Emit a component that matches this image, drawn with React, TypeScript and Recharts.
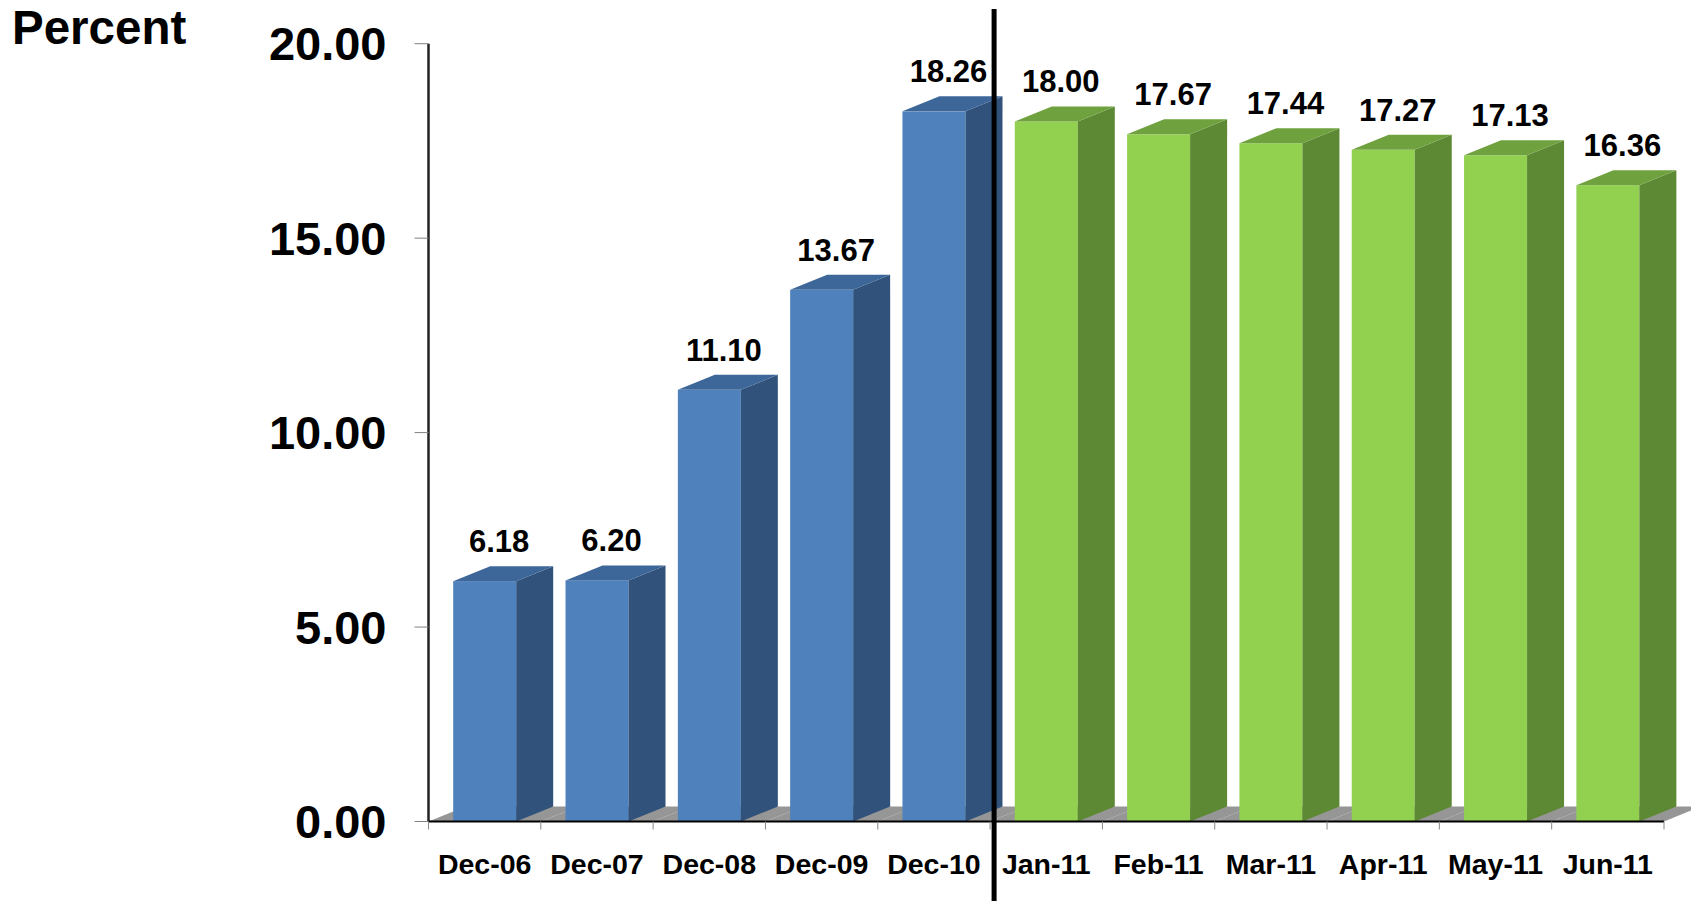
import { Bar, BarChart, LabelList, XAxis, YAxis } from "recharts";

const ANNUAL_LABELS = ["Dec-06", "Dec-07", "Dec-08", "Dec-09", "Dec-10"];
const ANNUAL_VALUES = [6.18, 6.2, 11.1, 13.67, 18.26];
const MONTHLY_LABELS = ["Jan-11", "Feb-11", "Mar-11", "Apr-11", "May-11", "Jun-11"];
const MONTHLY_VALUES = [18.0, 17.67, 17.44, 17.27, 17.13, 16.36];
const Y_TICKS = [0, 5, 10, 15, 20];

const rows = [
  ...ANNUAL_LABELS.map((label, i) => ({ label, value: ANNUAL_VALUES[i], period: "annual" })),
  ...MONTHLY_LABELS.map((label, i) => ({ label, value: MONTHLY_VALUES[i], period: "monthly" })),
];

const FONT = "'Liberation Sans', Arial, sans-serif";
const W = 1691;
const H = 901;
const LEFT = 428.5;
const RIGHT = 27;
const TOP = 43.7;
const X_AXIS_H = 79.5;
const BAND = (W - LEFT - RIGHT) / rows.length;
// fake 3d depth of the bars and floor
const DX = 37;
const DY = 15;

const COLORS: Record<string, { front: string; side: string; top: string }> = {
  annual: { front: "#4F81BD", side: "#31527A", top: "#3D6699" },
  monthly: { front: "#92D050", side: "#5E8934", top: "#6FA23E" },
};

function Bar3D(props: any) {
  const { x, y, width, height, payload } = props;
  const c = COLORS[payload.period];
  const base = y + height;
  const gap = (BAND - width) / 2;
  const r = x + width;
  const pts = (p: number[][]) => p.map((q) => q.join(",")).join(" ");
  return (
    <g>
      {/* floor slice for this band, drawn first so the bar sits on it */}
      <polygon
        fill="#969696"
        points={pts([
          [x - gap, base],
          [x - gap + DX, base - DY],
          [r + gap + DX, base - DY],
          [r + gap, base],
        ])}
      />
      <rect x={x} y={y} width={width} height={height} fill={c.front} />
      <polygon
        fill={c.side}
        points={pts([
          [r, y],
          [r + DX, y - DY],
          [r + DX, base - DY],
          [r, base],
        ])}
      />
      <polygon
        fill={c.top}
        points={pts([
          [x, y],
          [x + DX, y - DY],
          [r + DX, y - DY],
          [r, y],
        ])}
      />
    </g>
  );
}

function ValueLabel(props: any) {
  const { x, y, value } = props;
  return (
    <text
      x={x + 46}
      y={y - 29}
      textAnchor="middle"
      fontFamily={FONT}
      fontWeight="bold"
      fontSize={31}
      fill="#000"
    >
      {Number(value).toFixed(2)}
    </text>
  );
}

function XTick(props: any) {
  const { x, y, payload, index } = props;
  const left = x - BAND / 2;
  const axisY = y - 42;
  return (
    <g>
      <line x1={left} x2={left} y1={axisY} y2={axisY + 8} stroke="#888" strokeWidth={1} />
      {index === rows.length - 1 && (
        <line x1={x + BAND / 2} x2={x + BAND / 2} y1={axisY} y2={axisY + 8} stroke="#888" strokeWidth={1} />
      )}
      {index === ANNUAL_LABELS.length && (
        <line x1={left + 4} x2={left + 4} y1={9} y2={H} stroke="#000" strokeWidth={5} />
      )}
      <text
        x={x}
        y={y}
        dy="0.355em"
        textAnchor="middle"
        fontFamily={FONT}
        fontWeight="bold"
        fontSize={28.5}
        fill="#000"
      >
        {payload.value}
      </text>
    </g>
  );
}

export default function App() {
  return (
    <div style={{ position: "absolute", left: 0, top: 0, width: W, height: H, background: "#fff" }}>
      <svg style={{ position: "absolute", left: 0, top: 0 }} width={300} height={60}>
        <text x={12} y={44} fontFamily={FONT} fontWeight="bold" fontSize={47.5} fill="#000">
          Percent
        </text>
      </svg>
      <BarChart
        width={W}
        height={H}
        data={rows}
        margin={{ top: TOP, right: RIGHT, bottom: 0, left: 0 }}
        barCategoryGap={24.7}
      >
        <YAxis
          width={LEFT}
          domain={[0, 20]}
          ticks={Y_TICKS}
          interval={0}
          tickFormatter={(v: number) => v.toFixed(2)}
          tick={{ fontFamily: FONT, fontWeight: "bold", fontSize: 47, fill: "#000" }}
          tickSize={14}
          tickMargin={28}
          tickLine={{ stroke: "#808080" }}
          axisLine={{ stroke: "#222", strokeWidth: 2.5 }}
        />
        <Bar dataKey="value" shape={Bar3D} isAnimationActive={false}>
          <LabelList dataKey="value" content={ValueLabel} />
        </Bar>
        <XAxis
          dataKey="label"
          height={X_AXIS_H}
          interval={0}
          tickSize={0}
          tickMargin={42}
          tickLine={false}
          tick={XTick}
          axisLine={{ stroke: "#000", strokeWidth: 2 }}
        />
      </BarChart>
    </div>
  );
}
